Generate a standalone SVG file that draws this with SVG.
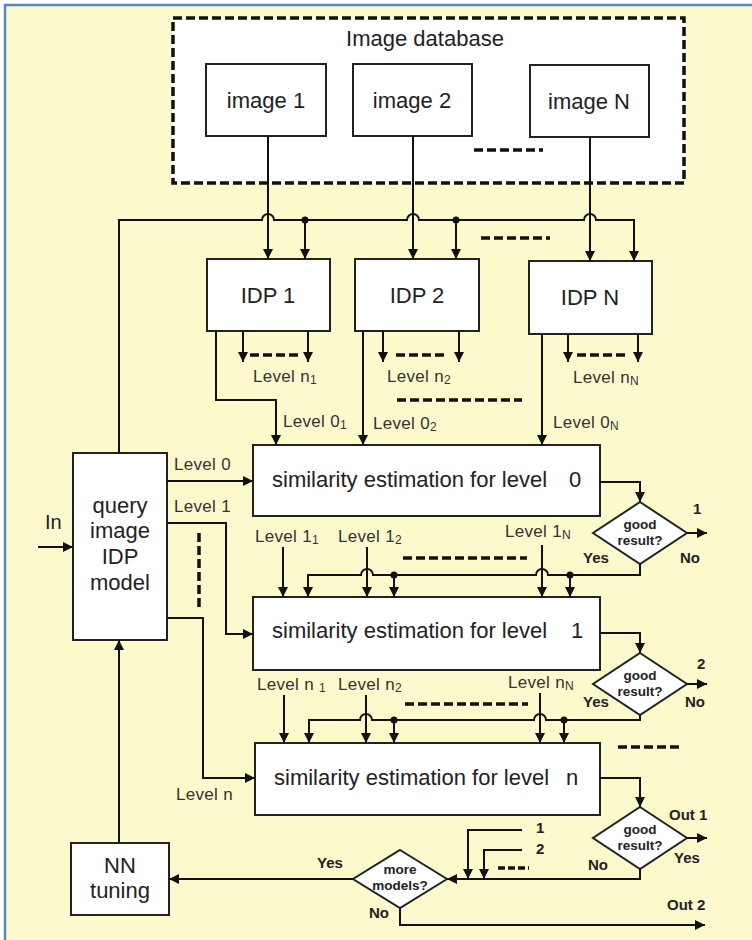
<svg xmlns="http://www.w3.org/2000/svg" width="752" height="940" viewBox="0 0 752 940">
<defs>
<marker id="ah" markerUnits="userSpaceOnUse" markerWidth="10" markerHeight="10" refX="10" refY="5" orient="auto">
<path d="M0,0 L10,5 L0,10 z" fill="#111"/>
</marker>
<style>
.bx{fill:#fff;stroke:#222;stroke-width:2}
.w{fill:none;stroke:#111;stroke-width:2}
.wa{fill:none;stroke:#111;stroke-width:2;marker-end:url(#ah)}
.dsh{fill:none;stroke:#111;stroke-width:3.5;stroke-dasharray:9 4}
.t{font-family:"Liberation Sans",Arial,sans-serif;font-size:22px;fill:#222}
.tc{text-anchor:middle}
.lv{font-family:"Liberation Sans",Arial,sans-serif;font-size:17px;fill:#333;letter-spacing:0.3px}
.sb{font-size:12px}
.b{font-family:"Liberation Sans",Arial,sans-serif;font-weight:bold;font-size:15px;fill:#222}
.d{font-family:"Liberation Sans",Arial,sans-serif;font-weight:bold;font-size:13.5px;fill:#222;text-anchor:middle}
</style>
</defs>
<rect x="0" y="0" width="752" height="940" fill="#fff"/>
<rect x="5" y="5" width="747" height="935" fill="#fcf9cc"/>
<path d="M5,940 V5 H752" fill="none" stroke="#5a84c6" stroke-width="2.5"/>

<g id="image-database">
<rect x="173" y="18" width="511" height="165" fill="#fff" stroke="#111" stroke-width="3.5" stroke-dasharray="9 4"/>
<text class="t tc" x="425" y="46">Image database</text>
<line class="dsh" x1="474" y1="150" x2="543" y2="150"/>
</g>
<g id="image1"><rect class="bx" x="206" y="64" width="120" height="72"/><text class="t tc" x="266" y="108">image 1</text></g>
<g id="image2"><rect class="bx" x="353" y="64" width="119" height="72"/><text class="t tc" x="412" y="108">image 2</text></g>
<g id="imageN"><rect class="bx" x="530" y="65" width="119" height="72"/><text class="t tc" x="589" y="109">image N</text></g>

<g id="idp1"><rect class="bx" x="207" y="259" width="123" height="72"/><text class="t tc" x="268" y="303">IDP 1</text></g>
<g id="idp2"><rect class="bx" x="355" y="259" width="124" height="72"/><text class="t tc" x="417" y="303">IDP 2</text></g>
<g id="idpN"><rect class="bx" x="529" y="261" width="123" height="73"/><text class="t tc" x="590" y="305">IDP N</text></g>

<g id="query"><rect class="bx" x="73" y="453" width="94" height="187"/>
<text class="t tc" x="120" y="513">query</text><text class="t tc" x="120" y="538">image</text><text class="t tc" x="120" y="564">IDP</text><text class="t tc" x="120" y="590">model</text></g>

<g id="sim0"><rect class="bx" x="253" y="445" width="347" height="71"/><text class="t" x="272" y="487">similarity estimation for level<tspan x="569">0</tspan></text></g>
<g id="sim1"><rect class="bx" x="253" y="597" width="347" height="73"/><text class="t" x="272" y="638">similarity estimation for level<tspan x="571">1</tspan></text></g>
<g id="simn"><rect class="bx" x="255" y="743" width="345" height="72"/><text class="t" x="274" y="785">similarity estimation for level<tspan x="566">n</tspan></text></g>

<g id="dec0"><path class="bx" d="M640,502 L687,533 L640,564 L593,533 z"/><text class="d" x="640" y="529">good</text><text class="d" x="640" y="545">result?</text></g>
<g id="dec1"><path class="bx" d="M640,653 L687,684 L640,715 L593,684 z"/><text class="d" x="640" y="680">good</text><text class="d" x="640" y="696">result?</text></g>
<g id="dec2"><path class="bx" d="M640,807 L687,838 L640,869 L593,838 z"/><text class="d" x="640" y="834">good</text><text class="d" x="640" y="850">result?</text></g>
<g id="more"><path class="bx" d="M400,850 L447,879 L400,908 L353,879 z"/><text class="d" x="400" y="874">more</text><text class="d" x="400" y="890">models?</text></g>

<g id="nn"><rect class="bx" x="71" y="843" width="98" height="72"/><text class="t tc" x="120" y="873">NN</text><text class="t tc" x="120" y="898">tuning</text></g>

<g id="connectors">
<path class="wa" d="M268,136 V259"/>
<path class="wa" d="M413,136 V259"/>
<path class="wa" d="M590,137 V261"/>
<path class="wa" d="M119,453 V220 H262 A6,6 0 0 1 274,220 H407 A6,6 0 0 1 419,220 H584 A6,6 0 0 1 596,220 H634 V261"/>
<circle cx="305" cy="220" r="3.5" fill="#111"/>
<circle cx="456" cy="220" r="3.5" fill="#111"/>
<path class="wa" d="M305,220 V259"/>
<path class="wa" d="M456,220 V259"/>
<line class="dsh" x1="481" y1="238" x2="550" y2="238"/>
<path class="wa" d="M243,331 V362"/><path class="wa" d="M308,331 V362"/>
<line class="dsh" x1="250" y1="355" x2="300" y2="355"/>
<path class="wa" d="M383,331 V362"/><path class="wa" d="M459,331 V362"/>
<line class="dsh" x1="396" y1="355" x2="446" y2="355"/>
<path class="wa" d="M568,334 V362"/><path class="wa" d="M638,334 V362"/>
<line class="dsh" x1="577" y1="355" x2="628" y2="355"/>
<line class="dsh" x1="397" y1="400" x2="522" y2="400"/>
<path class="wa" d="M216,331 V400 H276 V445"/>
<path class="wa" d="M363,331 V445"/>
<path class="wa" d="M542,334 V445"/>
<path class="wa" d="M167,481 H253"/>
<path class="wa" d="M167,523 H226 V634 H253"/>
<path class="wa" d="M167,618 H203 V778 H255"/>
<line class="dsh" x1="199" y1="533" x2="199" y2="607"/>
<path class="wa" d="M38,547 H73"/>
<path class="wa" d="M119,843 V640"/>
<path class="wa" d="M600,482 H640 V502"/>
<path class="wa" d="M687,533 H707"/>
<path class="wa" d="M283,547 V597"/>
<path class="wa" d="M367,547 V597"/>
<path class="wa" d="M542,545 V597"/>
<path class="wa" d="M640,564 V575 H548 A6,6 0 0 0 536,575 H373 A6,6 0 0 0 361,575 H308 V597"/>
<circle cx="394" cy="575" r="3.5" fill="#111"/><circle cx="570" cy="575" r="3.5" fill="#111"/>
<path class="wa" d="M394,575 V597"/><path class="wa" d="M570,575 V597"/>
<line class="dsh" x1="403" y1="558" x2="527" y2="558"/>
<path class="wa" d="M600,633 H640 V653"/>
<path class="wa" d="M687,684 H707"/>
<path class="wa" d="M284,695 V743"/>
<path class="wa" d="M366,695 V743"/>
<path class="wa" d="M540,693 V743"/>
<path class="wa" d="M640,715 V720 H546 A6,6 0 0 0 534,720 H372 A6,6 0 0 0 360,720 H309 V743"/>
<circle cx="394" cy="720" r="3.5" fill="#111"/><circle cx="564" cy="720" r="3.5" fill="#111"/>
<path class="wa" d="M394,720 V743"/><path class="wa" d="M564,720 V743"/>
<line class="dsh" x1="405" y1="704" x2="528" y2="704"/>
<line class="dsh" x1="618" y1="747" x2="680" y2="747"/>
<path class="wa" d="M600,778 H640 V807"/>
<path class="wa" d="M687,838 H707"/>
<path class="wa" d="M640,869 V879 H447"/>
<path class="wa" d="M522,830 H468 V879"/>
<path class="wa" d="M522,850 H484 V879"/>
<line fill="none" stroke="#111" stroke-width="3.5" stroke-dasharray="7 3" x1="498" y1="868" x2="529" y2="868"/>
<path class="wa" d="M353,879 H169"/>
<path class="wa" d="M400,908 V925 H705"/>
</g>

<g id="labels">
<text class="lv" x="253" y="382">Level n<tspan class="sb" dy="2">1</tspan></text>
<text class="lv" x="387" y="382">Level n<tspan class="sb" dy="2">2</tspan></text>
<text class="lv" x="573" y="383">Level n<tspan class="sb" dy="2">N</tspan></text>
<text class="lv" x="283" y="427">Level 0<tspan class="sb" dy="2">1</tspan></text>
<text class="lv" x="373" y="429">Level 0<tspan class="sb" dy="2">2</tspan></text>
<text class="lv" x="553" y="428">Level 0<tspan class="sb" dy="2">N</tspan></text>
<text class="lv" x="174" y="470">Level 0</text>
<text class="lv" x="174" y="512">Level 1</text>
<text class="lv" x="255" y="542">Level 1<tspan class="sb" dy="2">1</tspan></text>
<text class="lv" x="338" y="542">Level 1<tspan class="sb" dy="2">2</tspan></text>
<text class="lv" x="505" y="537">Level 1<tspan class="sb" dy="2">N</tspan></text>
<text class="lv" x="257" y="690">Level n <tspan class="sb" dy="2">1</tspan></text>
<text class="lv" x="338" y="690">Level n<tspan class="sb" dy="2">2</tspan></text>
<text class="lv" x="508" y="688">Level n<tspan class="sb" dy="2">N</tspan></text>
<text class="lv" x="176" y="800">Level n</text>
<text class="t" x="45" y="529" style="font-size:20px">In</text>
<text class="b" x="693" y="514">1</text>
<text class="b" x="583" y="563">Yes</text>
<text class="b" x="680" y="563">No</text>
<text class="b" x="697" y="669">2</text>
<text class="b" x="583" y="707">Yes</text>
<text class="b" x="685" y="707">No</text>
<text class="b" x="669" y="820">Out 1</text>
<text class="b" x="674" y="863">Yes</text>
<text class="b" x="588" y="870">No</text>
<text class="b" x="536" y="833">1</text>
<text class="b" x="536" y="854">2</text>
<text class="b" x="317" y="868">Yes</text>
<text class="b" x="369" y="918">No</text>
<text class="b" x="667" y="910">Out 2</text>
</g>
</svg>
